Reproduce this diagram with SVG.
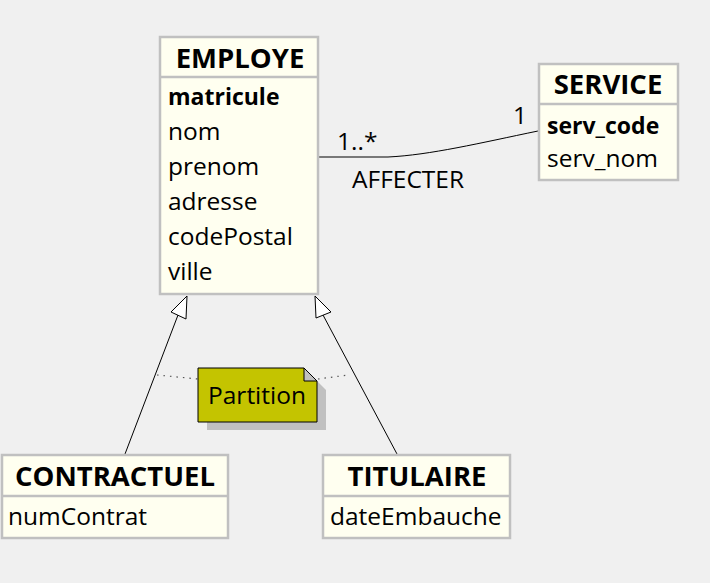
<svg xmlns="http://www.w3.org/2000/svg" width="710" height="583" viewBox="0 0 710 583">
<style>
.box{fill:#fffff0;stroke:#c0c0c0;stroke-width:2.5}
.sep{stroke:#c0c0c0;stroke-width:2.5}
.t{font-family:"Open Sans","Noto Sans",sans-serif;font-size:24.5px;fill:#000}
.h{font-weight:bold;text-anchor:middle;font-size:27.5px}
.b{font-weight:bold;font-size:23px}
.ln{fill:none;stroke:#000;stroke-width:1}
.dot{fill:none;stroke:#555;stroke-width:1.2;stroke-dasharray:1.5 5}
</style>
<rect width="710" height="583" fill="#f0f0f0"/>
<g id="connectors">
<path class="ln" d="M318,157 L388,157 C430,155 480,143 538,131"/>
<line class="ln" x1="178" y1="315" x2="125" y2="454"/>
<polygon points="187,296 171,312 186,319" fill="#fff" stroke="#000" stroke-width="1"/>
<line class="ln" x1="323" y1="315" x2="397" y2="454"/>
<polygon points="315,296 316,318 331,312" fill="#fff" stroke="#000" stroke-width="1"/>
<path class="dot" d="M157,375 L198,379"/>
<path class="dot" d="M318,379 L348,375"/>
<text class="t" x="337" y="150">1..*</text>
<text class="t" x="513" y="124">1</text>
<text class="t" x="352" y="188">AFFECTER</text>
</g>
<g id="EMPLOYE">
<rect class="box" x="160" y="37" width="158" height="257"/>
<line class="sep" x1="160" y1="77" x2="318" y2="77"/>
<text class="t h" x="240" y="68">EMPLOYE</text>
<text class="t b" x="168" y="105">matricule</text>
<text class="t" x="168" y="140">nom</text>
<text class="t" x="168" y="175">prenom</text>
<text class="t" x="168" y="210">adresse</text>
<text class="t" x="168" y="245">codePostal</text>
<text class="t" x="168" y="280">ville</text>
</g>
<g id="SERVICE">
<rect class="box" x="539" y="64" width="139" height="116"/>
<line class="sep" x1="539" y1="104" x2="678" y2="104"/>
<text class="t h" x="608" y="94">SERVICE</text>
<text class="t b" x="547" y="134">serv_code</text>
<text class="t" x="547" y="167">serv_nom</text>
</g>
<g id="CONTRACTUEL">
<rect class="box" x="2" y="455" width="226" height="83"/>
<line class="sep" x1="2" y1="496" x2="228" y2="496"/>
<text class="t h" x="115" y="486">CONTRACTUEL</text>
<text class="t" x="8" y="525">numContrat</text>
</g>
<g id="TITULAIRE">
<rect class="box" x="323" y="455" width="187" height="83"/>
<line class="sep" x1="323" y1="496" x2="510" y2="496"/>
<text class="t h" x="417" y="486">TITULAIRE</text>
<text class="t" x="330" y="525">dateEmbauche</text>
</g>
<g id="Partition">
<polygon points="207,377 313,377 326,390 326,430 207,430" fill="#c0c0c0"/>
<polygon points="198,368 304,368 317,381 317,422 198,422" fill="#c4c400" stroke="#000" stroke-width="1"/>
<polygon points="304,368 317,381 304,381" fill="#c0c0c0" stroke="#000" stroke-width="1"/>
<text class="t" x="257" y="404" text-anchor="middle">Partition</text>
</g>
</svg>
